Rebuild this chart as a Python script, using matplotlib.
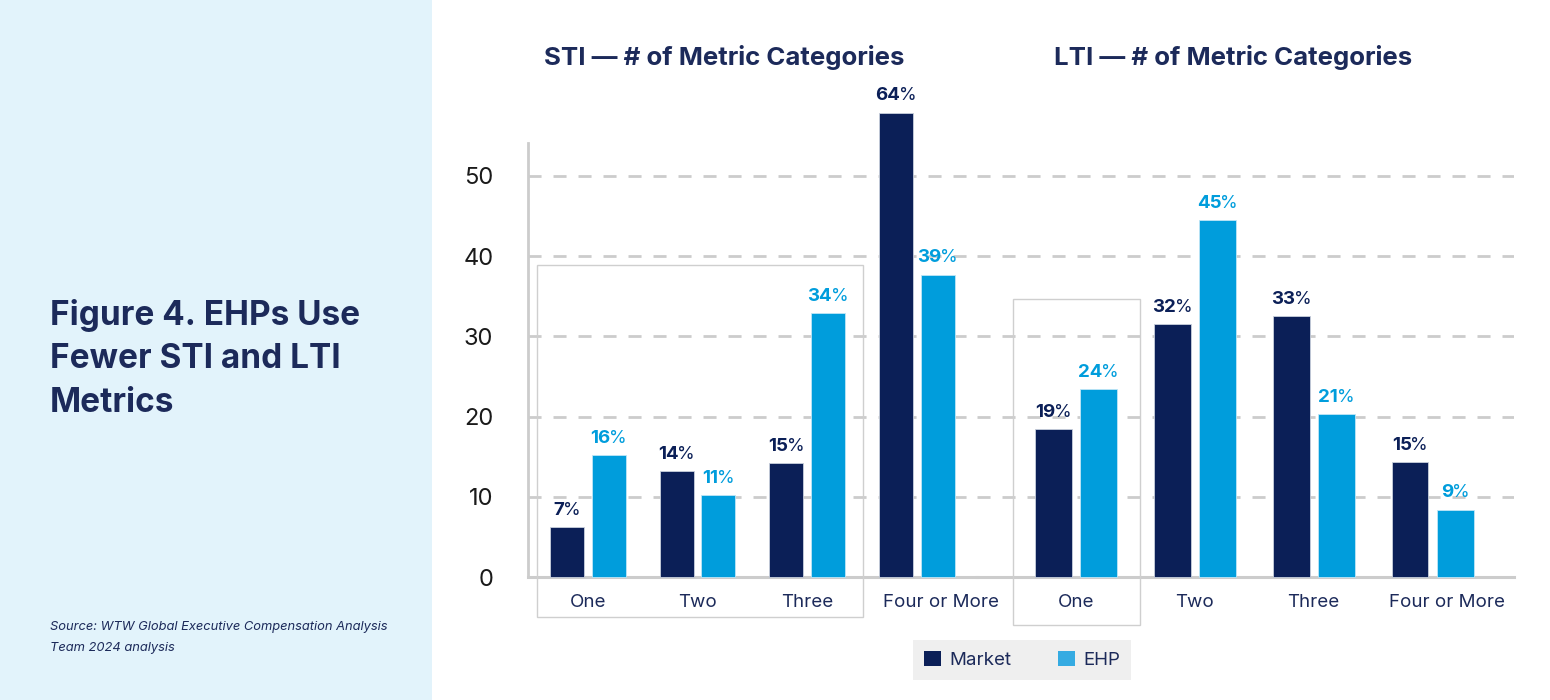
import numpy as np
import matplotlib.pyplot as plt
import matplotlib.transforms as mtransforms
from matplotlib.patches import Rectangle, Patch
from matplotlib.offsetbox import TextArea, HPacker, AnnotationBbox

plt.rcParams['font.family'] = ['Inter', 'DejaVu Sans']

# data
categories = ["One", "Two", "Three", "Four or More"]
sti_market = [6.2, 13.2, 14.2, 57.9]
sti_ehp = [15.2, 10.2, 32.9, 37.7]
lti_market = [18.4, 31.5, 32.5, 14.3]
lti_ehp = [23.4, 44.5, 20.3, 8.4]
sti_market_lbl = ["7", "14", "15", "64"]
sti_ehp_lbl = ["16", "11", "34", "39"]
lti_market_lbl = ["19", "32", "33", "15"]
lti_ehp_lbl = ["24", "45", "21", "9"]
yticks = [0, 10, 20, 30, 40, 50]

NAVY = '#0b1f57'
BLUE = '#009ddc'
TXT = '#1c2a5a'
GRID = '#cccccc'

fig = plt.figure(figsize=(15.5, 7), dpi=100)
fig.patch.set_facecolor('white')

# left light-blue panel
fig.patches.append(Rectangle((0, 0), 432 / 1550, 1, transform=fig.transFigure,
                             facecolor='#e2f3fb', edgecolor='none', zorder=0))
fig.text(50 / 1550, 1 - 299 / 700, "Figure 4. EHPs Use\nFewer STI and LTI\nMetrics",
         fontsize=24, fontweight='bold', color=TXT, va='top', ha='left', linespacing=1.45)
fig.text(50 / 1550, 1 - 621 / 700, "Source: WTW Global Executive Compensation Analysis\nTeam 2024 analysis",
         fontsize=9.3, fontstyle='italic', color=TXT, va='top', ha='left', linespacing=2.0)

ax1 = fig.add_axes([528 / 1550, 123 / 700, 449 / 1550, 434 / 700])
ax2 = fig.add_axes([977 / 1550, 123 / 700, 537 / 1550, 434 / 700])

w = 0.31
off = 0.19


def label(ax, x, h, num, color):
    box = HPacker(children=[
        TextArea(num, textprops=dict(fontsize=13.5, fontweight='bold', color=color)),
        TextArea("%", textprops=dict(fontsize=13, color=color)),
    ], pad=0, sep=-1, align='baseline')
    ab = AnnotationBbox(box, (x, h), xybox=(0, 6), xycoords='data', boxcoords='offset points',
                        box_alignment=(0.5, 0), frameon=False, annotation_clip=False, zorder=5)
    ax.add_artist(ab)


def panel(ax, market, ehp, mlbl, elbl, xlim):
    x = np.arange(len(categories))
    ax.set_xlim(*xlim)
    ax.set_ylim(0, 54.1)
    ax.axhline(0, color=GRID, lw=2.2, zorder=1, clip_on=False)
    ax.bar(x - off, market, w, color=NAVY, edgecolor='#c9d0dd', linewidth=0.6, zorder=3, clip_on=False)
    ax.bar(x + off, ehp, w, color=BLUE, edgecolor='#bfe6f6', linewidth=0.6, zorder=3, clip_on=False)
    for i in range(len(categories)):
        label(ax, x[i] - off, market[i], mlbl[i], NAVY)
        label(ax, x[i] + off, ehp[i], elbl[i], BLUE)
    ax.set_xticks(x)
    ax.set_xticklabels(categories, fontsize=13.5, color=TXT)
    ax.tick_params(axis='x', length=0, pad=12)
    ax.set_yticks(yticks)
    ax.grid(axis='y', color=GRID, lw=2, linestyle=(0, (4.7, 4.3)), zorder=0)
    ax.set_axisbelow(True)
    for s in ['top', 'right', 'bottom']:
        ax.spines[s].set_visible(False)
    ax.patch.set_alpha(0)


panel(ax1, sti_market, sti_ehp, sti_market_lbl, sti_ehp_lbl, (-0.545, 3.55))
panel(ax2, lti_market, lti_ehp, lti_market_lbl, lti_ehp_lbl, (-0.832, 3.685))

# "Four or More" sits a little right of its bars in the original
for ax, dx in [(ax1, 24), (ax2, 14)]:
    lab = ax.get_xticklabels()[-1]
    lab.set_transform(lab.get_transform() + mtransforms.Affine2D().translate(dx, 0))

ax1.spines['left'].set_color(GRID)
ax1.spines['left'].set_linewidth(2)
ax1.tick_params(axis='y', length=0, pad=25, labelsize=17, labelcolor='#1a1a1a')
ax2.spines['left'].set_visible(False)
ax2.tick_params(axis='y', length=0, labelleft=False)

# grey frames around the "One"-"Three" STI group and the LTI "One" group
ax1.add_patch(Rectangle((-0.46, -5.0), 2.97, 43.9, fill=False, edgecolor='#cfcfcf',
                        lw=1, clip_on=False, zorder=2))
ax2.add_patch(Rectangle((-0.53, -6.0), 1.07, 40.7, fill=False, edgecolor='#cfcfcf',
                        lw=1, clip_on=False, zorder=2))

fig.text(724 / 1550, 1 - 58 / 700, "STI \u2014 # of Metric Categories", fontsize=18.6,
         fontweight='bold', color=TXT, ha='center', va='center')
fig.text(1233 / 1550, 1 - 58 / 700, "LTI \u2014 # of Metric Categories", fontsize=18.6,
         fontweight='bold', color=TXT, ha='center', va='center')

handles = [Patch(facecolor=NAVY, label='Market'), Patch(facecolor='#35abe2', label='EHP')]
leg = fig.legend(handles=handles, loc='center', bbox_to_anchor=(1022 / 1550, 1 - 660 / 700),
                 ncol=2, frameon=True, fancybox=False, facecolor='#efefef', edgecolor='none',
                 fontsize=13.5, handlelength=0.9, handleheight=0.9, columnspacing=2.5,
                 handletextpad=0.45, borderpad=0.6, borderaxespad=0)
for t in leg.get_texts():
    t.set_color(TXT)
leg.get_frame().set_alpha(1)

fig.savefig('out.png', dpi=100)
